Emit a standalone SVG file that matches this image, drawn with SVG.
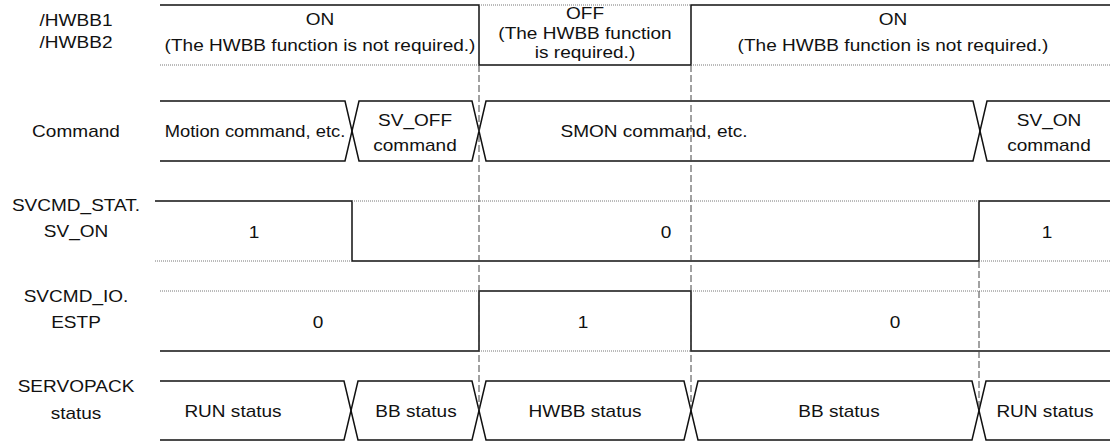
<svg xmlns="http://www.w3.org/2000/svg" width="1110" height="442" viewBox="0 0 1110 442">
<style>
text{font-family:"Liberation Sans",Arial,Helvetica,sans-serif;font-size:17px;fill:#111;text-anchor:middle}
.sig{fill:none;stroke:#111;stroke-width:1.5}
.ref{fill:none;stroke:#777;stroke-width:1;stroke-dasharray:1 1}
.guide{fill:none;stroke:#444;stroke-width:1;stroke-dasharray:7 3}
</style>
<rect width="1110" height="442" fill="#fff"/>
<g id="labels">
<text transform="translate(76 26) scale(1.12 1)">/HWBB1</text>
<text transform="translate(76 48) scale(1.12 1)">/HWBB2</text>
<text transform="translate(76 137) scale(1.12 1)">Command</text>
<text transform="translate(76 211) scale(1.12 1)">SVCMD_STAT.</text>
<text transform="translate(76 237) scale(1.12 1)">SV_ON</text>
<text transform="translate(76 302) scale(1.12 1)">SVCMD_IO.</text>
<text transform="translate(76 328) scale(1.12 1)">ESTP</text>
<text transform="translate(76 392) scale(1.12 1)">SERVOPACK</text>
<text transform="translate(76 419) scale(1.12 1)">status</text>
</g>
<g id="hwbb">
<path class="sig" d="M160,5 H479 V65 H691 V5 H1110"/>
<path class="ref" d="M160,65 H479 M479,5 H691 M691,65 H1110"/>
<text transform="translate(320 25) scale(1.12 1)">ON</text>
<text transform="translate(320 51) scale(1.12 1)">(The HWBB function is not required.)</text>
<text transform="translate(585 19) scale(1.12 1)">OFF</text>
<text transform="translate(585 39) scale(1.12 1)">(The HWBB function</text>
<text transform="translate(585 58) scale(1.12 1)">is required.)</text>
<text transform="translate(893 25) scale(1.12 1)">ON</text>
<text transform="translate(893 51) scale(1.12 1)">(The HWBB function is not required.)</text>
</g>
<g id="command">
<path class="sig" d="M160,101 H345 L359,161 H472 L486,101 H973 L987,161 H1110"/>
<path class="sig" d="M160,161 H345 L359,101 H472 L486,161 H973 L987,101 H1110"/>
<text transform="translate(255 137) scale(1.08 1)">Motion command, etc.</text>
<text transform="translate(415 126) scale(1.12 1)">SV_OFF</text>
<text transform="translate(415 151) scale(1.12 1)">command</text>
<text transform="translate(654 137) scale(1.12 1)">SMON command, etc.</text>
<text transform="translate(1049 126) scale(1.12 1)">SV_ON</text>
<text transform="translate(1049 151) scale(1.12 1)">command</text>
</g>
<g id="sv_on">
<path class="sig" d="M155,201 H352 V261 H979 V201 H1110"/>
<path class="ref" d="M155,261 H352 M352,201 H979 M979,261 H1110"/>
<text transform="translate(254 238) scale(1.12 1)">1</text>
<text transform="translate(666 238) scale(1.12 1)">0</text>
<text transform="translate(1047 238) scale(1.12 1)">1</text>
</g>
<g id="estp">
<path class="sig" d="M160,351 H479 V291 H691 V351 H1110"/>
<path class="ref" d="M160,291 H479 M479,351 H691 M691,291 H1110"/>
<text transform="translate(318 328) scale(1.12 1)">0</text>
<text transform="translate(583 328) scale(1.12 1)">1</text>
<text transform="translate(895 328) scale(1.12 1)">0</text>
</g>
<g id="servopack">
<path class="sig" d="M160,381 H344 L358,440 H472 L486,381 H684 L698,440 H972 L986,381 H1110"/>
<path class="sig" d="M160,440 H344 L358,381 H472 L486,440 H684 L698,381 H972 L986,440 H1110"/>
<text transform="translate(233 417) scale(1.12 1)">RUN status</text>
<text transform="translate(416 417) scale(1.12 1)">BB status</text>
<text transform="translate(585 417) scale(1.12 1)">HWBB status</text>
<text transform="translate(839 417) scale(1.12 1)">BB status</text>
<text transform="translate(1045 417) scale(1.12 1)">RUN status</text>
</g>
<g id="connectors">
<path class="guide" d="M479,65 V410 M691,65 V410 M979,261 V410"/>
</g>
</svg>
